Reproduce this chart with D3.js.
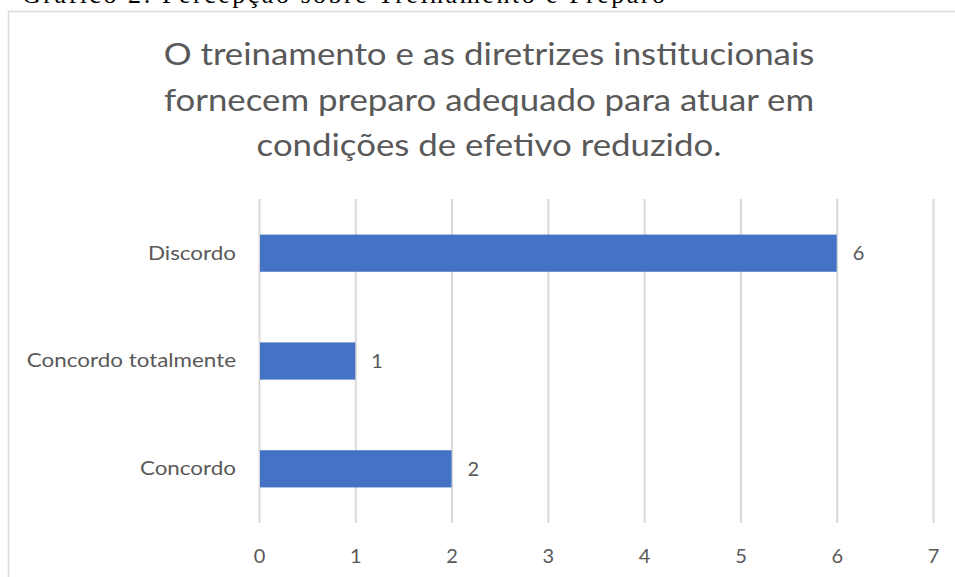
<!DOCTYPE html>
<html>
<head>
<meta charset="utf-8">
<script src="https://cdn.jsdelivr.net/npm/d3@7"></script>
<style>
    body { margin: 0; background: #fff; }
    svg { display: block; }
    text { font-family: Lato, "Noto Sans", sans-serif; fill: #595959; }
</style>
</head>
<body>
<div id="chart-area"></div>
<script>
const categories = ["Discordo", "Concordo totalmente", "Concordo"];
const counts = [6, 1, 2];
const xTicks = [0, 1, 2, 3, 4, 5, 6, 7];
const titleLines = [
    "O treinamento e as diretrizes institucionais",
    "fornecem preparo adequado para atuar em",
    "condições de efetivo reduzido."
];
const caption = "Gráfico 2: Percepção sobre Treinamento e Preparo";

// the source picture is a bit wider than tall, so widen the texts
const stretch = (sel, k) => sel.each(function () {
    const w = this.getComputedTextLength();
    d3.select(this).attr("textLength", w * k).attr("lengthAdjust", "spacingAndGlyphs");
});

const drawChart = () => {
    const size = { width: 955, height: 577 };
    const margin = { left: 259, right: 22, top: 199, bottom: 54 };
    const width = size.width - margin.left - margin.right;
    const height = size.height - margin.top - margin.bottom;

    const svg = d3.select("#chart-area")
        .append("svg")
        .attr("width", size.width)
        .attr("height", size.height);

    // caption of the document, cut by the top edge
    svg.append("text")
        .text(caption)
        .attr("x", 22)
        .attr("y", 3)
        .attr("textLength", 643)
        .style("font-family", "'Liberation Serif', 'Times New Roman', serif")
        .style("font-size", "26px")
        .style("fill", "#000");

    // chart frame
    svg.append("rect")
        .attr("x", 8.5)
        .attr("y", 11.5)
        .attr("width", 960)
        .attr("height", 600)
        .attr("fill", "none")
        .attr("stroke", "#d9d9d9")
        .attr("stroke-width", 1.5);

    svg.append("g")
        .selectAll("text")
        .data(titleLines)
        .join("text")
        .text(d => d)
        .attr("x", 489)
        .attr("y", (d, i) => 65 + i * 45.5)
        .attr("text-anchor", "middle")
        .style("font-size", "30px")
        .call(stretch, 1.16);

    const x = d3.scaleLinear().domain([0, 7]).range([0, width]);
    const y = d3.scaleBand().domain(categories).range([0, height]).paddingInner(0.655).paddingOuter(0.33);

    const g = svg.append("g").attr("transform", `translate(${margin.left}, ${margin.top})`);

    const xAxis = d3.axisBottom(x).tickValues(xTicks).tickSize(height).tickFormat(d => d);
    g.append("g")
        .call(xAxis)
        .call(a => a.select(".domain").remove())
        .call(a => a.selectAll("line").attr("stroke", "#d9d9d9").attr("stroke-width", 2))
        .call(a => a.selectAll("text").attr("dy", 0).attr("y", height + 40).style("font-size", "20px").attr("fill", "#595959"));

    const yAxis = d3.axisLeft(y).tickSize(0).tickPadding(23);
    g.append("g")
        .call(yAxis)
        .call(a => a.select(".domain").remove())
        .call(a => a.selectAll("text").style("font-size", "20px").attr("fill", "#595959").call(stretch, 1.12));

    g.selectAll("rect.bar")
        .data(categories)
        .join("rect")
        .attr("class", "bar")
        .attr("x", x(0) + 1)
        .attr("y", d => y(d))
        .attr("width", (d, i) => x(counts[i]) - x(0) - 1)
        .attr("height", y.bandwidth())
        .attr("fill", "#4472c4");

    g.selectAll("text.val")
        .data(categories)
        .join("text")
        .attr("class", "val")
        .text((d, i) => counts[i])
        .attr("x", (d, i) => x(counts[i]) + 16)
        .attr("y", d => y(d) + y.bandwidth() / 2)
        .attr("dy", "0.35em")
        .style("font-size", "20px");
};

window.onload = drawChart;
</script>
</body>
</html>
